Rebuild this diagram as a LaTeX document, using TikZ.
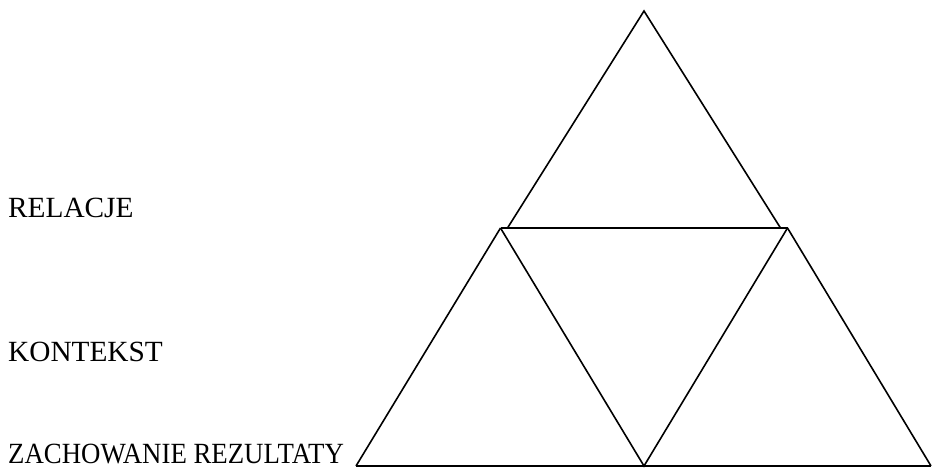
\documentclass[tikz,border=0pt]{standalone}
\usepackage{fontspec}
\setmainfont{Liberation Serif}
\tikzset{
  edge/.style={line width=1.6pt, line join=miter, line cap=butt},
  lbl/.style={anchor=base west, inner sep=0pt, font=\fontsize{29.3}{34}\selectfont}
}
\begin{document}
\begin{tikzpicture}[x=1pt,y=-1pt]
\useasboundingbox (0,0) rectangle (932,468);
\coordinate (A) at (644,11);
\coordinate (TL) at (507.5,228);
\coordinate (TR) at (780.5,228);
\coordinate (ML) at (500.5,228);
\coordinate (MR) at (787.5,228);
\coordinate (BL) at (356,466);
\coordinate (BM) at (644,466);
\coordinate (BR) at (931,466);
\draw[edge] (TL) -- (A) -- (TR);
\draw[edge] (ML) -- (MR);
\draw[edge] (ML) -- (BM) -- (MR);
\draw[edge] (BL) -- (ML);
\draw[edge] (MR) -- (BR);
\draw[edge] (BL) -- (BR);
\node[lbl] (rel) at (8,217) {RELACJE};
\node[lbl] (kon) at (8,361.5) {KONTEKST};
\node[lbl] (zach) at (8,463.5) {\scalebox{0.915}[1]{ZACHOWANIE REZULTATY}};
\end{tikzpicture}
\end{document}
